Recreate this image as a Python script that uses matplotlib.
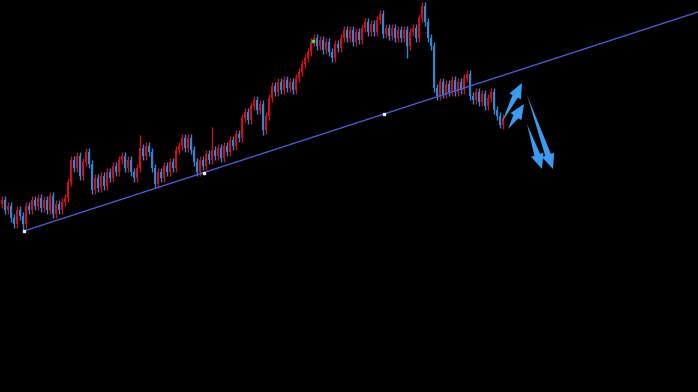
import numpy as np
import matplotlib
matplotlib.use('Agg')
import matplotlib.pyplot as plt
from matplotlib.patches import Polygon

# candle closes (pixel rows, top = 0), one candle every 3 px
closes = [200, 210, 206, 218, 224, 210, 216, 224, 206, 210,
          200, 206, 198, 208, 200, 210, 196, 214, 204, 210,
          202, 198, 182, 160, 168, 156, 176, 162, 152, 164,
          190, 178, 188, 176, 186, 172, 178, 166, 172, 160,
          156, 168, 160, 172, 178, 168, 148, 156, 146, 152,
          168, 184, 172, 178, 166, 172, 162, 168, 150, 146,
          138, 148, 138, 150, 162, 172, 160, 166, 154, 160,
          150, 156, 148, 158, 146, 152, 140, 146, 134, 138,
          118, 112, 120, 106, 100, 110, 104, 130, 116, 98,
          86, 92, 82, 90, 80, 88, 82, 90, 78, 72,
          64, 58, 52, 42, 38, 46, 40, 50, 42, 52,
          58, 44, 48, 38, 30, 38, 30, 42, 32, 40,
          28, 22, 32, 24, 32, 20, 14, 34, 28, 36,
          28, 38, 30, 38, 30, 46, 32, 28, 38, 18,
          6, 22, 38, 46, 88, 96, 82, 94, 84, 92,
          80, 92, 82, 90, 78, 74, 96, 100, 92, 102,
          94, 106, 98, 92, 110, 116, 125, 118]
first_open = 204

# long wicks: candle index -> extreme row
spike_high = {46: 135, 70: 127, 140: 2, 155: 70, 126: 10}
spike_low = {7: 230, 87: 135, 135: 58, 166: 128, 30: 194}

# trend line and its anchor points
trend_x = [24, 698]
trend_y = [231, 12]
anchor_x = [24, 204, 384]
anchor_y = [231, 173, 114]

# drawn arrows (tail -> head tip)
arrows = [((502, 122), (522, 83)),
          ((508, 129), (524, 104)),
          ((527, 95), (553, 169)),
          ((527, 124), (542, 169))]

up_col = '#cc101c'
dn_col = '#2e86d6'
arrow_col = '#3a9cf0'

fig = plt.figure(figsize=(6.98, 3.92), dpi=100, facecolor='black')
ax = fig.add_axes([0, 0, 1, 1])
ax.set_facecolor('black')
ax.set_xlim(0, 698)
ax.set_ylim(392, 0)
ax.axis('off')

closes = np.array(closes, dtype=float)
opens = np.concatenate([[first_open], closes[:-1]])
xs = 1.5 + 3 * np.arange(len(closes))

for i, (x, o, c) in enumerate(zip(xs, opens, closes)):
    # rows grow downward, so a smaller row is a higher price
    col = up_col if c < o else dn_col
    top = min(o, c)
    bot = max(o, c)
    hi = spike_high.get(i, top - 4)
    lo = spike_low.get(i, bot + 4)
    ax.vlines(x, hi, lo, color=col, lw=1)
    ax.bar(x, max(bot - top, 1), bottom=top, width=2, color=col, lw=0)

ax.plot(trend_x, trend_y, color='#4a5dc4', lw=1)
ax.scatter(anchor_x, anchor_y, s=4, marker='s', color='#e8e8ff', zorder=5)
ax.scatter([313], [41], s=3, color='#44dd44', zorder=5)


def arrow_shape(tail, tip, head_len=15, head_w=13, shaft_w=6):
    t = np.array(tail, float)
    p = np.array(tip, float)
    d = (p - t) / np.linalg.norm(p - t)
    n = np.array([-d[1], d[0]])
    base = p - d * head_len
    return [t, base + n * shaft_w / 2, base + n * head_w / 2, p,
            base - n * head_w / 2, base - n * shaft_w / 2]


for tail, tip in arrows:
    ax.add_patch(Polygon(arrow_shape(tail, tip), closed=True,
                         color=arrow_col, lw=0, zorder=6))

fig.savefig('out.png', dpi=100, facecolor='black')
